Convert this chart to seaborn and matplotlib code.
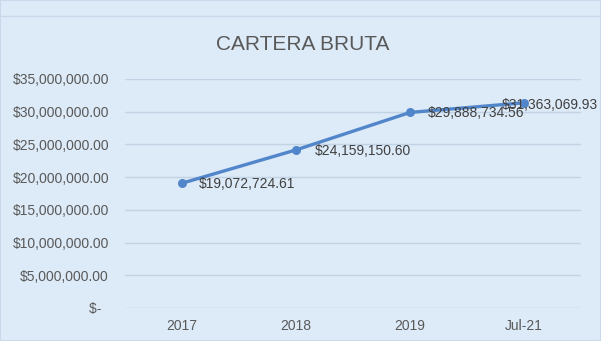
import matplotlib
matplotlib.use("Agg")
import matplotlib.pyplot as plt
import seaborn as sns
import pandas as pd
from matplotlib.ticker import FuncFormatter, MultipleLocator
from matplotlib.lines import Line2D

categories = ["2017", "2018", "2019", "Jul-21"]
values = [19072724.61, 24159150.60, 29888734.56, 31363069.93]
labels = ["$19,072,724.61", "$24,159,150.60", "$29,888,734.56", "$31,363,069.93"]
title = "CARTERA BRUTA"

sns.set_style("white")
plt.rcParams["font.family"] = ["Liberation Sans", "DejaVu Sans"]

bg = "#DDEAF7"
line_color = "#5286CB"
grid_color = "#C3D3E6"

fig = plt.figure(figsize=(6.01, 3.41), dpi=100, facecolor=bg)
ax = fig.add_axes([125/601, (341-308)/341, (581-125)/601, (308-79)/341])
ax.set_facecolor(bg)

df = pd.DataFrame({"cat": categories, "val": values})
sns.lineplot(data=df, x="cat", y="val", ax=ax, sort=False, color=line_color,
             linewidth=2.4, marker="o", markersize=6.5, markeredgewidth=0,
             zorder=3)

ax.set_xlim(-0.5, len(categories) - 0.5)
ax.set_ylim(0, 35000000)
ax.yaxis.set_major_locator(MultipleLocator(5000000))

def fmt(v, pos):
    if abs(v) < 1:
        return "$-  "
    return "${:,.2f}".format(v)

ax.yaxis.set_major_formatter(FuncFormatter(fmt))
ax.grid(axis="y", color=grid_color, linewidth=1)
ax.grid(axis="x", visible=False)
for s in ax.spines.values():
    s.set_visible(False)
ax.tick_params(axis="both", length=0, labelsize=10, labelcolor="#595959")
ax.tick_params(axis="y", pad=11.5)
ax.tick_params(axis="x", pad=8)
ax.set_xlabel("")
ax.set_ylabel("")

offsets = [(17, -1, "left"), (19, -1, "left"), (18, -1, "left"), (-22, -2, "left")]
for i, (lab, v) in enumerate(zip(labels, values)):
    dx, dy, ha = offsets[i]
    ax.annotate(lab, (i, v), xytext=(dx, dy), textcoords="offset pixels",
                ha=ha, va="center", fontsize=10, color="#404040", zorder=4,
                annotation_clip=False)

fig.text(303/601, 1 - 45/341, title, ha="center", va="center",
         fontsize=15, color="#595959")

fig.add_artist(Line2D([0, 1], [1 - 16/341, 1 - 16/341], transform=fig.transFigure,
                      color="#C9D9EB", linewidth=1))
fig.add_artist(plt.Rectangle((0, 0), 1, 1, transform=fig.transFigure,
                             fill=False, edgecolor="#C9D9EB", linewidth=1.5))

fig.savefig("out.png", dpi=100, facecolor=bg)
